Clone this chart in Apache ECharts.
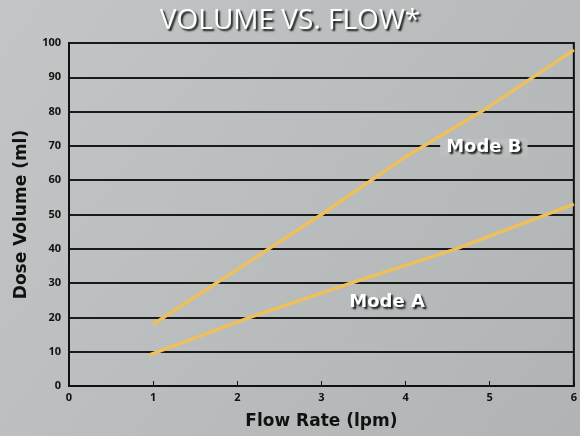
<!DOCTYPE html>
<html>
<head>
<meta charset="utf-8">
<script src="https://cdn.jsdelivr.net/npm/echarts@6/dist/echarts.min.js"></script>
<style>
    html, body { margin: 0; padding: 0; }
    #chart { width: 580px; height: 436px; }
</style>
</head>
<body>
<div id="chart"></div>
<script>
// values
const flowTicks = [0, 1, 2, 3, 4, 5, 6];
const modeA = [[0.95, 9], [2.15, 20], [3.35, 30], [4.6, 40], [6, 53]];
const modeB = [[1, 18], [2, 34], [3, 50], [3.95, 66], [4.9, 80], [6, 98]];
const seriesNames = ['Mode A', 'Mode B'];

const chart = echarts.init(document.getElementById('chart'));

const lineColor = '#efbf5c';
const textShadow = {
    color: '#fff',
    textShadowColor: 'rgba(0,0,0,0.9)',
    textShadowBlur: 2,
    textShadowOffsetX: 2,
    textShadowOffsetY: 2
};

chart.setOption({
    backgroundColor: {
        type: 'linear', x: 0, y: 0, x2: 1, y2: 1,
        colorStops: [
            {offset: 0, color: '#c3c6c6'},
            {offset: 0.5, color: '#b9bdbd'},
            {offset: 1, color: '#b0b4b5'}
        ]
    },
    title: {
        text: 'VOLUME VS. FLOW*',
        left: 'center',
        top: 2,
        textStyle: Object.assign({
            fontFamily: 'Open Sans',
            fontSize: 28,
            fontWeight: 'normal'
        }, textShadow)
    },
    grid: {
        left: 69,
        right: 3,
        top: 43,
        bottom: 50,
        show: true,
        borderColor: '#111',
        borderWidth: 2,
        backgroundColor: 'transparent'
    },
    xAxis: {
        type: 'value',
        min: 0,
        max: 6,
        interval: 1,
        name: 'Flow Rate (lpm)',
        nameLocation: 'middle',
        nameGap: 27,
        nameTextStyle: {
            color: '#111',
            fontFamily: 'DejaVu Sans',
            fontWeight: 'bold',
            fontSize: 17
        },
        axisLine: { lineStyle: { color: '#111', width: 2 } },
        axisTick: { inside: true, length: 5, lineStyle: { color: '#111' } },
        axisLabel: {
            color: '#111',
            fontFamily: 'Open Sans',
            fontWeight: 'bold',
            fontSize: 11,
            margin: 6,
            formatter: v => flowTicks.indexOf(v) >= 0 ? String(v) : ''
        },
        splitLine: { show: false }
    },
    yAxis: {
        type: 'value',
        min: 0,
        max: 100,
        interval: 10,
        name: 'Dose Volume (ml)',
        nameLocation: 'middle',
        nameGap: 39,
        nameTextStyle: {
            color: '#111',
            fontFamily: 'DejaVu Sans',
            fontWeight: 'bold',
            fontSize: 17
        },
        axisLine: { lineStyle: { color: '#111', width: 2 } },
        axisTick: { show: false },
        axisLabel: {
            color: '#111',
            fontFamily: 'Open Sans',
            fontWeight: 'bold',
            fontSize: 11,
            margin: 8
        },
        splitLine: { lineStyle: { color: '#1a1a1a', width: 2 } }
    },
    series: [
        {
            name: seriesNames[0],
            type: 'line',
            data: modeA,
            symbol: 'none',
            lineStyle: { color: lineColor, width: 3.5 },
            markPoint: {
                symbol: 'rect',
                symbolSize: 0,
                data: [{ coord: [3.78, 24.5] }],
                label: Object.assign({
                    show: true,
                    formatter: seriesNames[0],
                    fontFamily: 'DejaVu Sans',
                    fontWeight: 'bold',
                    fontSize: 18
                }, textShadow)
            }
        },
        {
            name: seriesNames[1],
            type: 'line',
            data: modeB,
            symbol: 'none',
            lineStyle: { color: lineColor, width: 3.5 },
            markPoint: {
                symbol: 'rect',
                symbolSize: 0,
                data: [{ coord: [4.93, 69.5] }],
                label: Object.assign({
                    show: true,
                    formatter: seriesNames[1],
                    fontFamily: 'DejaVu Sans',
                    fontWeight: 'bold',
                    fontSize: 18,
                    backgroundColor: '#bcbfbf',
                    padding: [0, 6]
                }, textShadow)
            }
        }
    ]
});
</script>
</body>
</html>
